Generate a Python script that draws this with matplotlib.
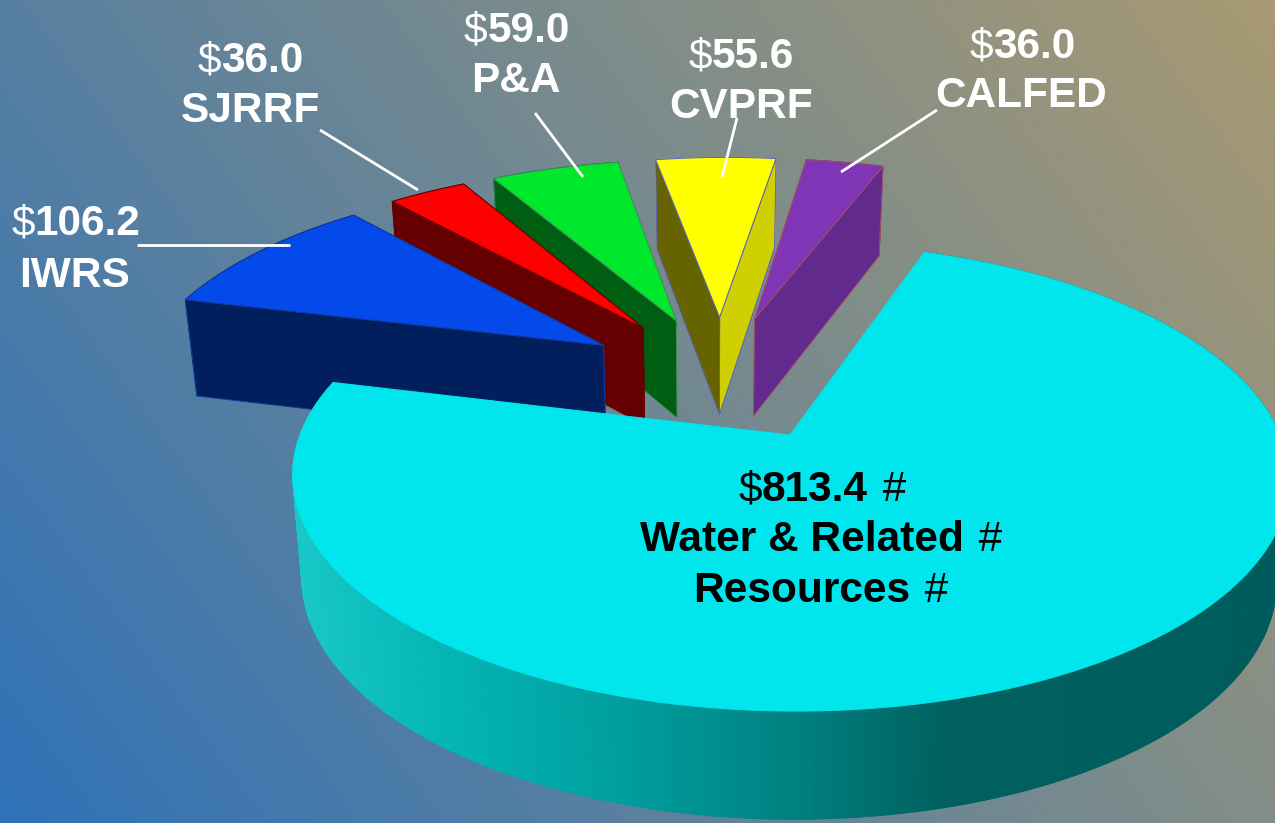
import numpy as np
import matplotlib
matplotlib.use("Agg")
import matplotlib.pyplot as plt
from matplotlib.colors import to_rgb
from matplotlib.patches import Polygon

plt.rcParams['font.family'] = ['Liberation Sans', 'DejaVu Sans']

# data, counter clockwise from the right edge of the gap
names = ["CALFED", "CVPRF", "P&A", "SJRRF", "IWRS", "Water & Related\nResources"]
values = [36.0, 55.6, 59.0, 36.0, 106.2, 813.4]
top_colors = ["#7f35b5", "#ffff00", "#00e82c", "#ff0000", "#0449ea", "#00e6ec"]
low_colors = ["#622a8c", "#d0d000", "#005e12", "#660000", "#001f5c", "#005c5c"]
high_colors = ["#622a8c", "#666400", "#005e12", "#660000", "#001f5c", "#18c8c8"]
edge_colors = ["#a05060", "#5b5fc0", "#3f8f5a", "#660000", "#0f3a9a", "#00e6ec"]

W, H = 1275, 823
start_angle = 70.7
explode = 0.305

# view of the pie, in pixels
x0, y0 = 790, 435
A, B, p = 490.0, 226.4, 0.18
shear = -5.0
D, q = 106.0, 0.045
vx, taper = 710, 0.022


def project(X, Y, z=0.0):
    X, Y = np.asarray(X, float), np.asarray(Y, float)
    w = 1 + p * Y
    sx = x0 + (A * X + shear * Y) / w
    sx = vx + (sx - vx) * (1 - taper * z)
    sy = y0 + (-B * Y + D * z) / (w + q * z)
    return sx, sy


def poly(ax, xs, ys, color, edge=None, lw=0.7, zorder=2):
    pts = np.column_stack([xs, ys])
    ax.add_patch(Polygon(pts, closed=True, facecolor=color, edgecolor=edge or color, linewidth=lw, zorder=zorder))


fig = plt.figure(figsize=(W / 100, H / 100), dpi=100)
ax = fig.add_axes([0, 0, 1, 1])
ax.set_xlim(0, W)
ax.set_ylim(H, 0)
ax.axis("off")

# background
gx, gy = np.meshgrid(np.linspace(0, 1, 320), np.linspace(0, 1, 207))
t = 0.68 * gx + 0.32 * (1 - gy)
stops = [to_rgb("#2f72b8"), to_rgb("#6e8794"), to_rgb("#a89a72")]
bg = np.dstack([np.interp(t, [0, 0.5, 1], [s[i] for s in stops]) for i in range(3)])
ax.imshow(bg, extent=[0, W, H, 0], aspect="auto", interpolation="bilinear", zorder=0)

# slices
sweeps = np.array(values) / sum(values) * 360
starts = start_angle + np.concatenate([[0], np.cumsum(sweeps)[:-1]])
mids = np.radians(starts + sweeps / 2)
big_ux, big_uy = np.cos(mids[-1]), np.sin(mids[-1])

wall_x = [300, 450, 650, 800, 950, 1275]
wall_c = [to_rgb(c) for c in ["#18c8c8", "#04b5b5", "#009a9a", "#007f7f", "#006060", "#005c5c"]]

for i in range(len(values)):
    ax0 = explode * (np.cos(mids[i]) - big_ux)
    ay0 = explode * (np.sin(mids[i]) - big_uy)
    th = np.radians(np.linspace(starts[i], starts[i] + sweeps[i], max(12, int(sweeps[i] * 2))))
    rx = ax0 + np.cos(th)
    ry = ay0 + np.sin(th)
    z = 2 + i
    edge = edge_colors[i]

    # outer wall
    tx, ty = project(rx, ry)
    bx, by = project(rx, ry, 1.0)
    if i == len(values) - 1:
        for j in range(len(th) - 1):
            col = [np.interp((tx[j] + tx[j + 1]) / 2, wall_x, [c[k] for c in wall_c]) for k in range(3)]
            poly(ax, [tx[j], tx[j + 1], bx[j + 1], bx[j]], [ty[j], ty[j + 1], by[j + 1], by[j]], col, zorder=z)
    else:
        poly(ax, np.r_[tx, bx[::-1]], np.r_[ty, by[::-1]], low_colors[i], zorder=z)

        # cut faces, the one turned to the viewer goes last
        ax_t, ay_t = project(ax0, ay0)
        ax_b, ay_b = project(ax0, ay0, 1.0)
        faces = [(0, low_colors[i]), (-1, high_colors[i])]
        if i == 0:
            faces = faces[::-1]
        for k, col in faces:
            poly(ax, [ax_t, tx[k], bx[k], ax_b], [ay_t, ty[k], by[k], ay_b], col, edge, zorder=z)

    # top face
    cx, cy = project(np.r_[ax0, rx], np.r_[ay0, ry])
    poly(ax, cx, cy, top_colors[i], edge, zorder=z)

# leader lines
leader_x = [(937, 841), (737, 722), (535, 583), (320, 418), (137, 290)]
leader_y = [(110, 172), (118, 177), (113, 177), (130, 190), (245, 245)]
for lx, ly in zip(leader_x, leader_y):
    ax.plot(lx, ly, color="white", lw=2.0, solid_capstyle="butt", zorder=20)

# labels
renderer = fig.canvas.get_renderer()
fs = 30.5


def runs(center, base, parts, color):
    items = []
    total = 0
    for s, weight in parts:
        tt = ax.text(0, base, s, fontsize=fs, fontweight=weight, color=color, va="baseline", ha="left", zorder=30)
        wd = tt.get_window_extent(renderer).width
        if s.startswith(" "):
            wd += 3
        items.append((tt, wd, s.startswith(" ")))
        total += wd
    x = center - total / 2
    for tt, wd, spaced in items:
        tt.set_x(x + (3 if spaced else 0))
        x += wd


label_pos = [(1022, 58, 1021, 107), (741, 68, 741, 118), (517, 42, 516, 92), (250, 72, 250, 122), (76, 235, 75, 287)]
for i in range(5):
    c1, b1, c2, b2 = label_pos[i]
    runs(c1, b1, [("$", "normal"), (f"{values[i]:.1f}", "bold")], "white")
    runs(c2, b2, [(names[i], "bold")], "white")

line1, line2 = names[5].split("\n")
runs(822, 501, [("$", "normal"), (f"{values[5]:.1f}", "bold"), (" #", "normal")], "black")
runs(821, 551, [(line1, "bold"), (" #", "normal")], "black")
runs(821, 602, [(line2, "bold"), (" #", "normal")], "black")

fig.savefig("out.png", dpi=100)
